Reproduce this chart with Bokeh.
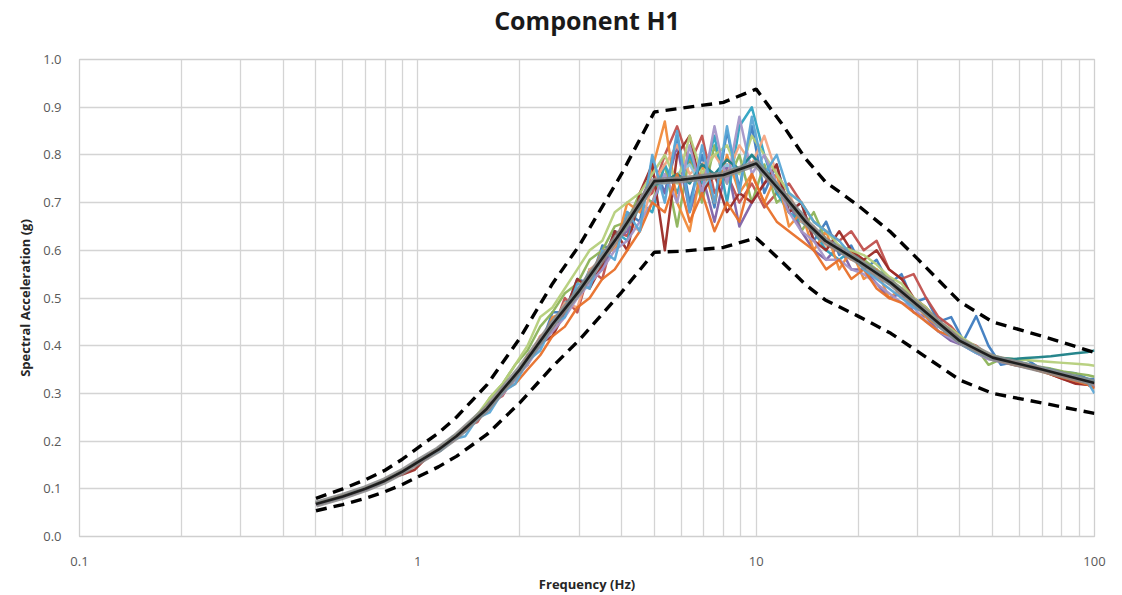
from bokeh.plotting import figure
from bokeh.models import FixedTicker, NumeralTickFormatter, Title
from bokeh.embed import file_html
from bokeh.resources import INLINE

# frequency grid of the recorded spectra (Hz)
freq = [0.50, 0.55, 0.60, 0.65, 0.70, 0.76, 0.83, 0.90, 0.98, 1.07, 1.17, 1.27, 1.38, 1.50, 1.63, 1.78,
        1.94, 2.11, 2.30, 2.50, 2.72, 2.96, 3.22, 3.51, 3.82, 4.16, 4.53, 4.93, 5.37, 5.84, 6.36, 6.92,
        7.53, 8.20, 8.92, 9.71, 10.57, 11.5, 12.5, 13.6, 14.8, 16.1, 17.6, 19.1, 20.8, 22.7, 24.7, 26.9,
        29.2, 31.8, 34.6, 37.7, 41.0, 44.7, 48.6, 52.9, 57.6, 62.7, 68.2, 74.3, 80.8, 88.0, 95.8, 100.0]

s01 = [.070,.077,.085,.094,.101,.112,.121,.138,.150,.172,.182,.210,.220,.255,.268,.312,.330,.378,.398,.470,.470,.540,.530,.610,.600,.680,.660,.790,.720,.840,.700,.800,
       .690,.850,.730,.860,.720,.780,.680,.700,.620,.660,.590,.610,.560,.580,.530,.550,.490,.500,.450,.460,.410,.462,.400,.360,.365,.372,.355,.350,.345,.342,.330,.330]
s02 = [.067,.075,.083,.091,.099,.108,.125,.134,.155,.165,.190,.200,.230,.240,.280,.295,.340,.360,.420,.430,.500,.470,.560,.540,.640,.630,.700,.720,.800,.860,.780,.840,
       .720,.760,.700,.740,.690,.720,.740,.700,.660,.640,.620,.640,.600,.620,.560,.540,.550,.500,.460,.440,.410,.400,.380,.375,.362,.360,.350,.340,.330,.322,.318,.315]
s03 = [.069,.078,.086,.093,.102,.110,.124,.138,.150,.170,.185,.208,.226,.250,.290,.320,.360,.390,.440,.470,.510,.530,.580,.600,.650,.660,.720,.700,.780,.650,.800,.700,
       .820,.740,.800,.700,.780,.700,.720,.640,.680,.620,.600,.590,.580,.560,.540,.520,.500,.470,.440,.430,.410,.395,.360,.372,.366,.362,.356,.352,.346,.342,.338,.335]
s04 = [.066,.074,.083,.090,.098,.109,.122,.135,.153,.166,.187,.202,.222,.246,.270,.300,.330,.370,.400,.440,.470,.510,.540,.560,.620,.640,.700,.760,.720,.820,.680,.760,
       .660,.780,.650,.700,.740,.760,.700,.640,.600,.580,.610,.560,.560,.530,.500,.510,.470,.460,.430,.410,.400,.385,.372,.368,.360,.356,.348,.344,.338,.330,.320,.318]
s05 = [.068,.076,.084,.092,.100,.111,.123,.137,.152,.170,.188,.205,.226,.248,.276,.300,.340,.360,.410,.440,.490,.500,.560,.570,.640,.620,.700,.680,.780,.720,.800,.740,
       .840,.700,.860,.900,.800,.720,.680,.660,.640,.600,.580,.600,.570,.550,.530,.520,.480,.470,.440,.430,.400,.395,.380,.372,.368,.362,.355,.350,.342,.336,.330,.325]
s06 = [.069,.077,.085,.093,.101,.111,.124,.137,.151,.169,.186,.206,.222,.252,.275,.310,.330,.380,.400,.460,.470,.520,.540,.600,.600,.700,.680,.770,.870,.700,.640,.780,
       .700,.800,.720,.760,.700,.760,.650,.680,.600,.640,.560,.600,.540,.560,.500,.520,.490,.460,.440,.420,.405,.388,.376,.370,.362,.358,.352,.345,.338,.330,.324,.318]
s07 = [.067,.075,.084,.092,.100,.110,.122,.136,.152,.168,.185,.204,.225,.248,.273,.300,.335,.370,.420,.440,.490,.480,.560,.580,.610,.660,.640,.740,.780,.820,.760,.780,
       .800,.760,.820,.780,.840,.760,.720,.660,.650,.610,.600,.580,.575,.540,.540,.500,.490,.470,.450,.420,.410,.390,.378,.370,.365,.360,.352,.346,.340,.332,.325,.318]
s08 = [.068,.076,.084,.092,.100,.110,.123,.136,.152,.168,.186,.204,.224,.250,.272,.305,.334,.365,.410,.450,.480,.520,.540,.590,.620,.650,.700,.740,.740,.760,.780,.730,
       .760,.780,.760,.800,.760,.740,.700,.680,.640,.620,.600,.585,.570,.555,.535,.515,.490,.465,.445,.425,.408,.392,.378,.372,.366,.360,.354,.348,.341,.334,.326,.322]
s09 = [.068,.076,.084,.092,.100,.110,.123,.130,.140,.168,.186,.204,.224,.248,.274,.303,.335,.368,.405,.420,.470,.540,.520,.570,.640,.600,.720,.780,.600,.800,.840,.720,
       .760,.680,.720,.700,.740,.780,.680,.700,.620,.600,.640,.600,.580,.600,.560,.540,.500,.480,.450,.430,.410,.392,.378,.372,.366,.360,.354,.340,.330,.320,.318,.312]
s10 = [.069,.077,.085,.093,.101,.111,.124,.137,.153,.169,.187,.206,.228,.256,.290,.320,.360,.400,.460,.480,.520,.560,.600,.620,.680,.700,.720,.760,.800,.740,.840,.760,
       .800,.820,.760,.840,.800,.760,.720,.700,.660,.640,.610,.600,.590,.570,.545,.530,.500,.480,.450,.435,.415,.398,.382,.375,.372,.370,.368,.366,.364,.362,.360,.358]
s11 = [.067,.075,.083,.091,.099,.109,.122,.135,.151,.167,.185,.203,.222,.246,.270,.298,.330,.360,.400,.430,.460,.500,.530,.560,.600,.620,.660,.700,.760,.700,.820,.720,
       .860,.740,.880,.760,.800,.740,.680,.640,.620,.580,.580,.560,.550,.530,.510,.490,.480,.450,.430,.415,.400,.385,.372,.366,.360,.354,.350,.344,.336,.330,.322,.316]
s12 = [.068,.076,.084,.092,.100,.110,.123,.136,.152,.168,.186,.204,.224,.248,.274,.303,.335,.368,.405,.445,.480,.515,.550,.585,.620,.655,.690,.735,.745,.760,.740,.780,
       .760,.790,.770,.800,.770,.740,.700,.670,.640,.620,.600,.585,.572,.555,.535,.515,.490,.465,.445,.425,.408,.392,.378,.374,.372,.374,.376,.378,.381,.384,.387,.390]
s13 = [.068,.076,.085,.092,.100,.111,.122,.137,.151,.170,.186,.205,.224,.249,.276,.305,.320,.350,.380,.420,.440,.480,.500,.540,.560,.600,.640,.700,.680,.760,.660,.720,
       .640,.700,.660,.760,.700,.660,.640,.620,.600,.560,.580,.540,.560,.520,.500,.490,.470,.450,.430,.420,.400,.390,.380,.368,.360,.355,.348,.340,.333,.326,.318,.310]
s14 = [.068,.076,.084,.093,.100,.110,.123,.136,.152,.168,.180,.204,.210,.248,.260,.303,.320,.368,.390,.445,.460,.530,.520,.600,.580,.680,.640,.800,.700,.850,.680,.820,
       .700,.860,.720,.880,.760,.800,.720,.700,.660,.640,.620,.590,.560,.540,.520,.500,.480,.470,.440,.420,.400,.385,.376,.370,.364,.358,.352,.346,.340,.332,.322,.300]
series = [s01, s02, s03, s04, s05, s06, s07, s08, s09, s10, s11, s12, s13, s14]
series_colors = ["#3E7CC0", "#C0504D", "#8DB35A", "#7E62A6", "#2FA3C2", "#F08A3A", "#F4A582",
                 "#8FC8E0", "#9B2A25", "#B5CF7B", "#A496C8", "#1B7F86", "#E8702A", "#5AA6D6"]

# target spectrum and +/- bounds
target_freq = [0.5, 0.6, 0.7, 0.8, 0.9, 1.0, 1.15, 1.3, 1.6, 2.0, 2.5, 3.0, 4.0, 5.0, 6.0, 8.0, 10.0,
               12.0, 14.0, 16.0, 20.0, 25.0, 30.0, 40.0, 50.0, 70.0, 100.0]
target = [.068, .084, .100, .117, .136, .156, .182, .210, .268, .350, .445, .515, .640, .745, .748, .758, .782,
          .718, .660, .620, .578, .532, .485, .410, .375, .350, .322]
upper = [.080, .100, .119, .139, .162, .186, .217, .250, .318, .415, .530, .610, .760, .890, .898, .910, .938,
         .862, .792, .744, .694, .638, .582, .492, .450, .420, .386]
lower = [.054, .067, .080, .094, .109, .125, .146, .168, .214, .280, .356, .412, .512, .596, .598, .606, .626,
         .574, .528, .496, .462, .426, .388, .328, .300, .280, .258]

title_text = "Component H1"
x_major = [0.1, 1, 10, 100]
x_tick_labels = ["0.1", "1", "10", "100"]
y_ticks = [0.0, 0.1, 0.2, 0.3, 0.4, 0.5, 0.6, 0.7, 0.8, 0.9, 1.0]

p = figure(width=1122, height=595, x_axis_type="log", x_range=(0.1, 100), y_range=(0, 1.0),
           output_backend="svg", toolbar_location=None, title=None,
           min_border_left=79, min_border_right=28, min_border_top=58, min_border_bottom=57)

# spacer between frame and title, then the title itself
p.add_layout(Title(text=" ", text_font_size="19px", standoff=0), "above")
p.add_layout(Title(text=title_text, align="center", text_font="Open Sans", text_font_style="bold",
                   text_font_size="25px", text_color="#1a1a1a", standoff=0), "above")

minor = [m * d for d in [0.1, 1, 10] for m in range(2, 10)]
p.xaxis.ticker = FixedTicker(ticks=x_major, minor_ticks=minor)
p.xaxis.major_label_overrides = {v: s for v, s in zip(x_major, x_tick_labels)}
p.yaxis.ticker = FixedTicker(ticks=y_ticks)
p.yaxis.formatter = NumeralTickFormatter(format="0.0")

for ax in (p.xaxis, p.yaxis):
    ax.axis_line_color = None
    ax.major_tick_line_color = None
    ax.minor_tick_line_color = None
    ax.major_label_text_font = "Open Sans"
    ax.major_label_text_font_size = "13px"
    ax.major_label_text_color = "#595959"
    ax.axis_label_text_font = "Open Sans"
    ax.axis_label_text_font_style = "bold"
    ax.axis_label_text_font_size = "13px"
    ax.axis_label_text_color = "#262626"

p.xaxis.axis_label = "Frequency (Hz)"
p.yaxis.axis_label = "Spectral Acceleration (g)"
p.xaxis.major_label_standoff = 14
p.yaxis.major_label_standoff = 12
p.xaxis.axis_label_standoff = 6
p.yaxis.axis_label_standoff = 6

p.xgrid.grid_line_color = "#d4d4d4"
p.xgrid.minor_grid_line_color = "#d4d4d4"
p.xgrid.grid_line_width = 1.3
p.xgrid.minor_grid_line_width = 1.3
p.ygrid.grid_line_color = "#d4d4d4"
p.ygrid.grid_line_width = 1.3
p.outline_line_color = "#cfcfcf"
p.outline_line_width = 1.3

for s, c in zip(series, series_colors):
    p.line(freq, s, line_color=c, line_width=2.5, line_join="round", line_alpha=0.95)

p.line(target_freq, upper, line_color="black", line_width=3.4, line_dash="11 7")
p.line(target_freq, lower, line_color="black", line_width=3.4, line_dash="11 7")

p.line(target_freq, target, line_color="#8a8a8a", line_width=7, line_alpha=0.85, line_join="round")
p.line(target_freq, target, line_color="#1e1e1e", line_width=2.6, line_join="round")

open("out.html", "w").write(file_html(p, INLINE))
